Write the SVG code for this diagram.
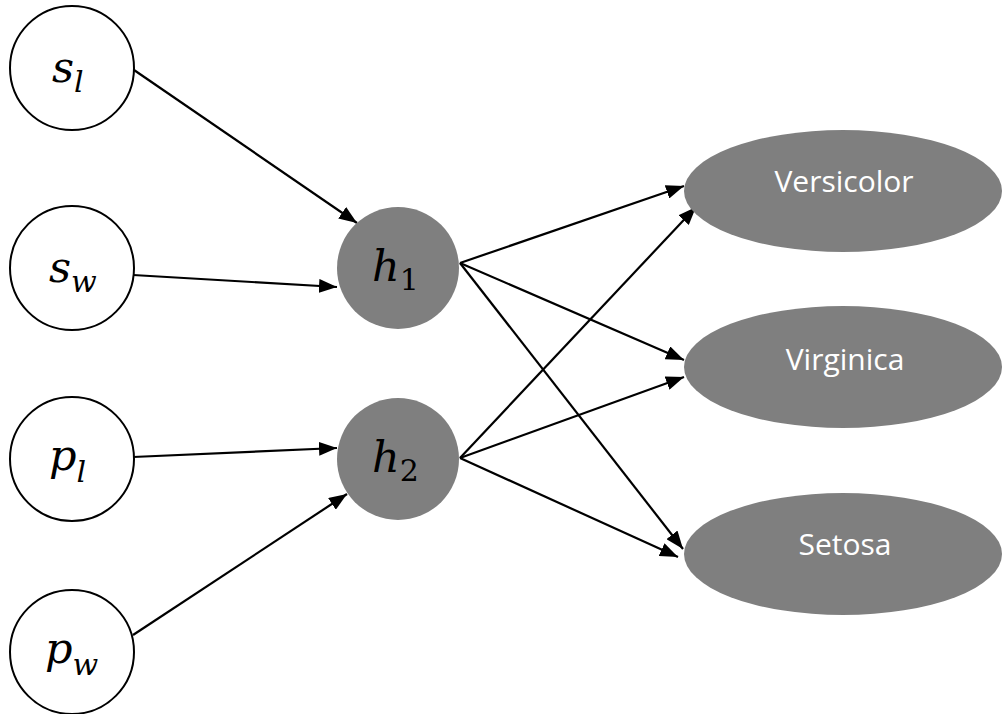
<svg xmlns="http://www.w3.org/2000/svg" width="1002" height="714" viewBox="0 0 1002 714">
<style>
.inp{fill:#ffffff;stroke:#000000;stroke-width:2}
.hid{fill:#7f7f7f}
.out{fill:#7f7f7f}
.math{font-family:"DejaVu Serif","Liberation Serif",serif;font-style:italic;font-size:43px;fill:#000000}
.sub{font-size:30px}
.num{font-style:normal}
.lbl{font-family:"Open Sans","Liberation Sans",sans-serif;font-size:30px;fill:#ffffff;text-anchor:middle}
.edge{stroke:#000000;stroke-width:2.2;fill:none;marker-end:url(#arr)}
</style>
<defs>
<marker id="arr" viewBox="0 0 18 14" refX="18" refY="7" markerWidth="18" markerHeight="14" markerUnits="userSpaceOnUse" orient="auto">
<path d="M0,0 L18,7 L0,14 z" fill="#000000"/>
</marker>
</defs>
<rect width="1002" height="714" fill="#ffffff"/>
<g id="connectors">
<line class="edge" x1="134" y1="70" x2="357" y2="223"/>
<line class="edge" x1="133" y1="275" x2="337" y2="287"/>
<line class="edge" x1="133" y1="457" x2="337" y2="448"/>
<line class="edge" x1="133" y1="635" x2="347" y2="494"/>
<line class="edge" x1="460" y1="263" x2="684" y2="186"/>
<line class="edge" x1="460" y1="263" x2="684" y2="360"/>
<line class="edge" x1="460" y1="263" x2="683" y2="549"/>
<line class="edge" x1="460" y1="458" x2="696" y2="207"/>
<line class="edge" x1="460" y1="458" x2="684" y2="377"/>
<line class="edge" x1="460" y1="458" x2="678" y2="557"/>
</g>
<g id="node-sl">
<circle class="inp" cx="72" cy="68" r="62"/>
<text class="math" x="52" y="82">s<tspan class="sub" dy="10">l</tspan></text>
</g>
<g id="node-sw">
<circle class="inp" cx="72" cy="268" r="62"/>
<text class="math" x="49" y="282">s<tspan class="sub" dy="10">w</tspan></text>
</g>
<g id="node-pl">
<circle class="inp" cx="72" cy="459" r="62"/>
<text class="math" x="49" y="470">p<tspan class="sub" dy="12">l</tspan></text>
</g>
<g id="node-pw">
<circle class="inp" cx="72" cy="652" r="62"/>
<text class="math" x="45" y="663">p<tspan class="sub" dy="12">w</tspan></text>
</g>
<g id="node-h1">
<circle class="hid" cx="398" cy="268" r="61"/>
<text class="math" x="372" y="281">h<tspan class="sub num" dy="9">1</tspan></text>
</g>
<g id="node-h2">
<circle class="hid" cx="398" cy="459" r="61"/>
<text class="math" x="372" y="472">h<tspan class="sub num" dy="9">2</tspan></text>
</g>
<g id="node-versicolor">
<ellipse class="out" cx="843" cy="191" rx="159" ry="61"/>
<text class="lbl" x="844" y="192">Versicolor</text>
</g>
<g id="node-virginica">
<ellipse class="out" cx="843" cy="367" rx="159" ry="61"/>
<text class="lbl" x="845" y="370">Virginica</text>
</g>
<g id="node-setosa">
<ellipse class="out" cx="843" cy="554" rx="159" ry="61"/>
<text class="lbl" x="845" y="555">Setosa</text>
</g>
</svg>
